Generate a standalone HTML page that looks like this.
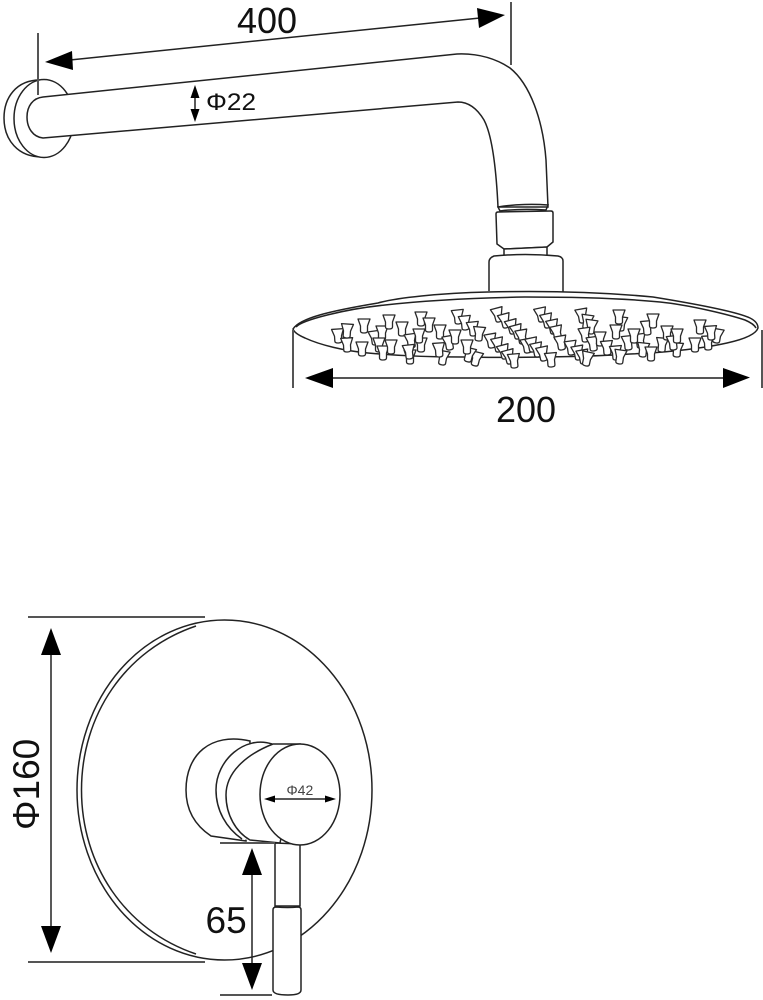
<!DOCTYPE html>
<html>
<head>
<meta charset="utf-8">
<style>
html,body{margin:0;padding:0;background:#fff;width:763px;height:1000px;overflow:hidden}
svg{display:block}
text{font-family:"Liberation Sans",sans-serif;fill:#111}
.l{fill:none;stroke:#222;stroke-width:1.5}
.w{fill:#fff;stroke:#222;stroke-width:1.5}
.e{stroke:#555;stroke-width:2;fill:none}
.a{fill:#000;stroke:none}
.d{stroke:#222;stroke-width:1.5;fill:none}
.n{fill:#fff;stroke:#2a2a2a;stroke-width:1.3;stroke-linejoin:round}
</style>
</head>
<body>
<svg width="763" height="1000" viewBox="0 0 763 1000" xmlns="http://www.w3.org/2000/svg">
<defs>
<path id="n" class="n" d="M-6,-7 L6,-7 L3.500,0 L3.500,5 Q3.500,7 0,7 Q-3.500,7 -3.500,5 L-3.500,0 Z"/>
</defs>

<!-- wall plate -->
<path class="l" d="M40,80 C16,80 4,98 4,118 C4,140 18,157 42,157"/>
<ellipse class="w" cx="44" cy="118.500" rx="30" ry="39"/>

<!-- arm -->
<path class="w" d="M43,97 L457,54 C480,53 498,60 510,68 C530,84 543,120 546,160 L548,207 L498,207 C496,165 492,135 484,120 C478,110 470,102 458,102 L43,138 C33,137 27,128 27,117 C27,106 33,98 43,97 Z"/>

<!-- collar -->
<path class="l" d="M498,207 C515,204 535,204 548,205 L546,210 C530,209 515,209 500,211 Z"/>
<path class="w" d="M496,214 Q496,212 498,212 L551,211 Q553,211 553,213 L553,242 L547,247 L504,249 L497,244 Z"/>
<path class="w" d="M504,249 L547,247 L547,256 L504,256 Z"/>
<path class="w" d="M489,291 L489,262 Q489,258 494,256 Q525,253 558,256 Q563,257 563,261 L563,292"/>

<!-- shower head -->
<path class="w" d="M293,329 C300,318 330,311 378,303 C395,298 440,293 488,292 C530,291 590,291 653,297 C690,303 735,311 750,318 C756,321 758,325 758,328 C756,334 745,339 727,343 C700,349 660,353 630,354 C590,357 500,358 463,357 C420,357 390,355 368,353 C345,351 320,345 305,338 C298,335 294,332 293,329 Z"/>
<path class="l" d="M296,327 C302,320 345,309 385,305 C420,301 470,298 525,297 C570,297 620,298 660,302 C690,305 730,315 745,320 C752,323 755,326 756,328"/>

<!-- nozzles -->
<use href="#n" transform="translate(338,336) rotate(-4)"/>
<use href="#n" transform="translate(347,345) rotate(-3)"/>
<use href="#n" transform="translate(347,331) rotate(4)"/>
<use href="#n" transform="translate(364,326)"/>
<use href="#n" transform="translate(362,349)"/>
<use href="#n" transform="translate(375,338) rotate(-8)"/>
<use href="#n" transform="translate(382,333)"/>
<use href="#n" transform="translate(379,345)"/>
<use href="#n" transform="translate(389,322)"/>
<use href="#n" transform="translate(383,353)"/>
<use href="#n" transform="translate(391,347)"/>
<use href="#n" transform="translate(402,329)"/>
<use href="#n" transform="translate(421,319)"/>
<use href="#n" transform="translate(429,325)"/>
<use href="#n" transform="translate(411,341) rotate(-8)"/>
<use href="#n" transform="translate(421,345)"/>
<use href="#n" transform="translate(419,336)"/>
<use href="#n" transform="translate(410,357)"/>
<use href="#n" transform="translate(409,352) rotate(-6)"/>
<use href="#n" transform="translate(440,332)"/>
<use href="#n" transform="translate(443,358) rotate(10)"/>
<use href="#n" transform="translate(439,350) rotate(-4)"/>
<use href="#n" transform="translate(449,343) rotate(-10)"/>
<use href="#n" transform="translate(455,337)"/>
<use href="#n" transform="translate(458,317) rotate(-6)"/>
<use href="#n" transform="translate(465,323) rotate(-6)"/>
<use href="#n" transform="translate(473,329) rotate(-6)"/>
<use href="#n" transform="translate(479,334) rotate(5)"/>
<use href="#n" transform="translate(476,359) rotate(14)"/>
<use href="#n" transform="translate(469,355) rotate(14)"/>
<use href="#n" transform="translate(467,347)"/>
<use href="#n" transform="translate(498,315) rotate(-15)"/>
<use href="#n" transform="translate(505,321) rotate(-15)"/>
<use href="#n" transform="translate(512,327) rotate(-15)"/>
<use href="#n" transform="translate(517,332) rotate(-15)"/>
<use href="#n" transform="translate(522,337) rotate(-10)"/>
<use href="#n" transform="translate(491,341) rotate(-10)"/>
<use href="#n" transform="translate(498,345) rotate(-12)"/>
<use href="#n" transform="translate(504,352) rotate(-15)"/>
<use href="#n" transform="translate(509,357) rotate(-15)"/>
<use href="#n" transform="translate(514,361) rotate(-5)"/>
<use href="#n" transform="translate(527,346) rotate(-10)"/>
<use href="#n" transform="translate(541,315) rotate(-12)"/>
<use href="#n" transform="translate(547,321) rotate(-12)"/>
<use href="#n" transform="translate(553,327) rotate(-12)"/>
<use href="#n" transform="translate(557,333) rotate(-12)"/>
<use href="#n" transform="translate(561,343) rotate(-10)"/>
<use href="#n" transform="translate(532,345) rotate(-12)"/>
<use href="#n" transform="translate(537,350) rotate(-12)"/>
<use href="#n" transform="translate(543,354) rotate(-12)"/>
<use href="#n" transform="translate(551,360) rotate(-5)"/>
<use href="#n" transform="translate(571,348) rotate(-8)"/>
<use href="#n" transform="translate(578,353) rotate(-10)"/>
<use href="#n" transform="translate(583,357) rotate(-10)"/>
<use href="#n" transform="translate(587,359) rotate(12)"/>
<use href="#n" transform="translate(582,316) rotate(-10)"/>
<use href="#n" transform="translate(587,322) rotate(8)"/>
<use href="#n" transform="translate(591,327) rotate(8)"/>
<use href="#n" transform="translate(585,335) rotate(-8)"/>
<use href="#n" transform="translate(593,344) rotate(-8)"/>
<use href="#n" transform="translate(600,339)"/>
<use href="#n" transform="translate(607,348) rotate(-5)"/>
<use href="#n" transform="translate(616,353) rotate(-5)"/>
<use href="#n" transform="translate(620,357) rotate(8)"/>
<use href="#n" transform="translate(621,324) rotate(6)"/>
<use href="#n" transform="translate(619,317)"/>
<use href="#n" transform="translate(616,332)"/>
<use href="#n" transform="translate(628,343) rotate(-6)"/>
<use href="#n" transform="translate(640,341) rotate(-8)"/>
<use href="#n" transform="translate(634,336)"/>
<use href="#n" transform="translate(643,350) rotate(6)"/>
<use href="#n" transform="translate(651,354)"/>
<use href="#n" transform="translate(647,328) rotate(-5)"/>
<use href="#n" transform="translate(653,321)"/>
<use href="#n" transform="translate(662,345) rotate(5)"/>
<use href="#n" transform="translate(667,333)"/>
<use href="#n" transform="translate(677,350) rotate(4)"/>
<use href="#n" transform="translate(673,343) rotate(-6)"/>
<use href="#n" transform="translate(677,336)"/>
<use href="#n" transform="translate(695,345)"/>
<use href="#n" transform="translate(700,327)"/>
<use href="#n" transform="translate(717,336) rotate(10)"/>
<use href="#n" transform="translate(708,343) rotate(-3)"/>
<use href="#n" transform="translate(711,333) rotate(-4)"/>

<!-- 400 dimension -->
<line class="e" x1="38" y1="33" x2="38" y2="95"/>
<line class="e" x1="511" y1="2" x2="511" y2="65"/>
<line class="d" x1="70" y1="60" x2="480" y2="18"/>
<polygon class="a" points="45,62 72,51 73,70"/>
<polygon class="a" points="505,15 477,8 479,28"/>
<text x="237" y="33" font-size="36">400</text>

<!-- phi 22 -->
<line class="d" x1="195" y1="92" x2="195" y2="115"/>
<polygon class="a" points="195,85 190.500,98 199.500,98"/>
<polygon class="a" points="195,122 190.500,109 199.500,109"/>
<text x="206" y="110" font-size="24" textLength="50" lengthAdjust="spacingAndGlyphs">Φ22</text>

<!-- 200 dimension -->
<line class="e" x1="293" y1="330" x2="293" y2="388"/>
<line class="e" x1="762" y1="330" x2="762" y2="388"/>
<line class="e" x1="330" y1="378" x2="726" y2="378"/>
<polygon class="a" points="305,378 333,368 333,388"/>
<polygon class="a" points="750,377.500 723,368 723,388"/>
<text x="496" y="422" font-size="36">200</text>

<!-- big round plate -->
<ellipse class="l" cx="224.500" cy="790" rx="147.500" ry="170"/>
<path class="l" d="M196,626 C125,650 81.500,715 81.500,790 C81.500,865 125,930 196,954"/>

<!-- handle -->
<path class="w" d="M250,741 C210,732 186,755 186,790 C186,812 196,826 211,836 L246,841 Z"/>
<path class="w" d="M272,744 C250,737 232,745 216,790 C216,810 226,828 242,839 L262,842 Z" style="stroke:none"/>
<path class="l" d="M272,744 C245,735 216,760 216,790 C216,810 226,828 242,839"/>
<path class="w" d="M300,744 L273,744 C245,755 226,773 226,795 C226,815 236,832 250,840 L280,843 Z"/>

<!-- lever -->
<path class="w" d="M275,843 L275,906 L300,906 L300,844 Z"/>
<path class="w" d="M273,910 Q273,907 276,907 Q288,908 298,907 Q301,907 301,910 L301,990 Q301,995 288,995 Q273,995 273,990 Z"/>

<ellipse class="w" cx="300" cy="794.500" rx="40" ry="50.500"/>

<!-- phi 42 -->
<line class="d" x1="268" y1="799" x2="332" y2="799"/>
<polygon class="a" points="264,799 275,795.500 275,802.500"/>
<polygon class="a" points="336,799 325,795.500 325,802.500"/>
<text x="286.500" y="795" font-size="14" style="fill:#444">Φ42</text>

<!-- 65 dimension -->
<line class="e" x1="220" y1="843" x2="275" y2="843"/>
<line class="e" x1="220" y1="995" x2="272" y2="995"/>
<line class="d" x1="252" y1="870" x2="252" y2="968"/>
<polygon class="a" points="252,848 242,875 262,875"/>
<polygon class="a" points="252,990 242,963 262,963"/>
<text x="205.500" y="933" font-size="37">65</text>

<!-- phi 160 dimension -->
<line class="e" x1="28" y1="617" x2="205" y2="617"/>
<line class="e" x1="28" y1="962" x2="205" y2="962"/>
<line class="d" x1="51" y1="650" x2="51" y2="930"/>
<polygon class="a" points="51,628 41,655 61,655"/>
<polygon class="a" points="51,953 41,926 61,926"/>
<text transform="translate(39,830) rotate(-90)" font-size="37">Φ160</text>
</svg>
</body>
</html>
